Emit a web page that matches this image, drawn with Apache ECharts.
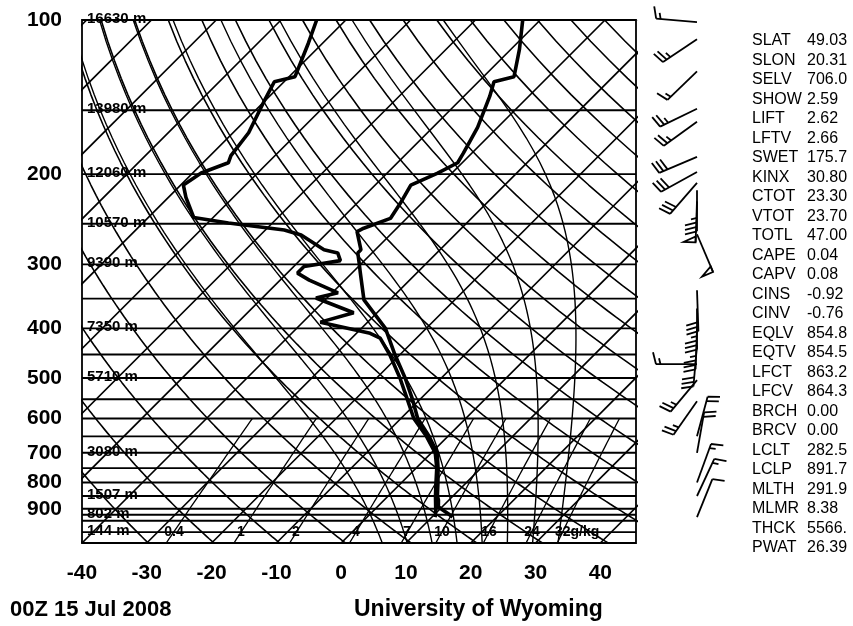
<!DOCTYPE html>
<html><head><meta charset="utf-8">
<script src="https://cdn.jsdelivr.net/npm/echarts@6/dist/echarts.min.js"></script>
<style>html,body{margin:0;padding:0;background:#fff}#c{width:853px;height:626px}</style>
</head><body><div id="c"></div>
<script>
// ---------------- data ----------------
const tempP = [935, 925, 900, 892, 866, 850, 800, 750, 700, 650, 600, 550, 500, 450, 400, 352, 312, 300, 285, 281, 259, 255, 244, 228, 210, 199, 190, 182, 162, 141, 132, 129, 114, 100];
const tempT = [13.2, 12.4, 10.1, 9.4, 8.4, 7.6, 5.6, 3.4, 0.9, -2.9, -7.4, -11.2, -15.6, -20.8, -26.3, -34.0, -38.7, -40.2, -42.2, -42.2, -45.6, -45.1, -42.5, -43.3, -44.5, -42.2, -40.7, -41.3, -43.1, -46.0, -47.6, -45.3, -48.7, -52.7];
const dewP = [935, 925, 900, 850, 800, 750, 700, 650, 600, 550, 500, 450, 418, 409, 389, 373, 349, 341, 322, 312, 303, 295, 285, 281, 263, 257, 249, 243, 222, 210, 199, 190, 184, 166, 143, 132, 129, 111, 100];
const dewT = [10.5, 10.2, 9.3, 7.3, 5.3, 3.2, 0.6, -3.3, -8.0, -12.0, -16.4, -21.6, -25.6, -27.9, -37.3, -33.6, -41.7, -39.1, -45.5, -48.4, -48.4, -43.7, -45.3, -47.9, -53.7, -57.1, -66.8, -73.0, -77.3, -79.6, -78.7, -76.1, -76.8, -77.6, -80.2, -81.5, -79.1, -82.2, -84.5];

const windP   = [101, 109, 126, 149, 158, 185, 198, 208, 215, 226, 262, 337, 366, 400, 432, 470, 505, 555, 650, 700, 800, 850, 935];
const windDir = [275, 236, 226, 244, 234, 247, 241, 221, 180, 182, 157, 178, 180, 182, 185, 270, 220, 215, 15, 10, 20, 25, 22];
const windSpd = [15, 25, 15, 25, 25, 30, 30, 30, 35, 50, 50, 30, 35, 35, 30, 15, 25, 25, 20, 20, 15, 15, 10];

const pressureTicks = [100, 200, 300, 400, 500, 600, 700, 800, 900];
const isobars = [100, 150, 200, 250, 300, 350, 400, 450, 500, 550, 600, 650, 700, 750, 800, 850, 900, 925, 950, 1000];
const isotherms = [-120, -110, -100, -90, -80, -70, -60, -50, -40, -30, -20, -10, 0, 10, 20, 30, 40];
const dryAdiabats = [230, 240, 250, 260, 270, 280, 290, 300, 310, 320, 330, 340, 350, 360, 370, 380, 390, 400, 410, 420, 430, 440, 450, 460];
const moistAdiabats = [4, 8, 12, 16, 20, 24, 28, 32];
const mixingRatios = [0.4, 1, 2, 4, 7, 10, 16, 24, 32];
const mixingLabels = ['0.4', '1', '2', '4', '7', '10', '16', '24', '32g/kg'];
const heightP = [100, 150, 200, 250, 300, 400, 500, 700, 850, 925, 1000];
const heightLabels = ['16630 m', '13980 m', '12060 m', '10570 m', '9390 m', '7350 m', '5710 m', '3080 m', '1507 m', '802 m', '144 m'];
const statNames = ['SLAT','SLON','SELV','SHOW','LIFT','LFTV','SWET','KINX','CTOT','VTOT','TOTL','CAPE','CAPV','CINS','CINV','EQLV','EQTV','LFCT','LFCV','BRCH','BRCV','LCLT','LCLP','MLTH','MLMR','THCK','PWAT'];
const statValues = ['49.03','20.31','706.0','2.59','2.62','2.66','175.7','30.80','23.30','23.70','47.00','0.04','0.08','-0.92','-0.76','854.8','854.5','863.2','864.3','0.00','0.00','282.5','891.7','291.9','8.38','5566.','26.39'];
const dateText = '00Z 15 Jul 2008';
const sourceText = 'University of Wyoming';

// ---------------- layout ----------------
const G = {left: 82, top: 20, width: 554, height: 523};
const XMIN = -40, XMAX = 45.5, PTOP = 100, PBOT = 1050;
const SKEW = (G.height / Math.log10(PBOT / PTOP)) / (G.width / (XMAX - XMIN)); // 45 degree isotherms
const skewX = (T, p) => T + SKEW * Math.log10(PBOT / p);

function ls(data, w, z) {
  return {type: 'line', data, symbol: 'none', silent: true, animation: false, clip: true,
    lineStyle: {color: '#000', width: w}, z: z || 2};
}
const pLevels = [];
for (let p = PBOT; p >= PTOP; p -= 10) pLevels.push(p);

const series = [];
isobars.forEach(p => series.push(ls([[XMIN, p], [XMAX, p]], 1.9)));
isotherms.forEach(T => series.push(ls([[skewX(T, PBOT), PBOT], [skewX(T, PTOP), PTOP]], 1.7)));
dryAdiabats.forEach(th => series.push(ls(pLevels.map(p => [skewX(th * Math.pow(p / 1000, 0.2857) - 273.15, p), p]), 1.6)));

function moistPath(tw) {
  const f = (p, T) => {
    const Tc = T - 273.15;
    const es = 6.112 * Math.exp(17.67 * Tc / (Tc + 243.5));
    const rs = 0.622 * es / (p - es);
    const num = 287.04 * T + 2.501e6 * rs;
    const den = 1005.7 + (2.501e6 * 2.501e6 * rs * 0.622) / (287.04 * T * T);
    return num / (den * p);
  };
  const down = [];
  let T = tw + 273.15, p = 1000;
  while (p < PBOT) { const h = 5; const k1 = f(p, T), k2 = f(p + h, T + h * k1); T += h * (k1 + k2) / 2; p += h; down.push([p, T]); }
  const pts = down.reverse();
  pts.push([1000, tw + 273.15]);
  T = tw + 273.15; p = 1000;
  while (p > PTOP) { const h = -5; const k1 = f(p, T), k2 = f(p + h, T + h * k1); T += h * (k1 + k2) / 2; p += h; if (p % 10 === 0) pts.push([p, T]); }
  return pts.map(d => [skewX(d[1] - 273.15, d[0]), d[0]]);
}
moistAdiabats.forEach(tw => series.push(ls(moistPath(tw), 1.4)));

function tdFromW(w, p) {
  const e = w * p / (622 + w);
  const l = Math.log(e / 6.112);
  return 243.5 * l / (17.67 - l);
}
const mixLevels = pLevels.filter(p => p >= 600);
mixingRatios.forEach(w => series.push(ls(mixLevels.map(p => [skewX(tdFromW(w, p), p), p]), 1.3)));

// profiles
series.push(ls(tempP.map((p, i) => [skewX(tempT[i], p), p]), 3.6, 10));
series.push(ls(dewP.map((p, i) => [skewX(dewT[i], p), p]), 3.6, 10));

// text marks placed through the axes (custom series)
function textSeries(items, font, align, dx, dy) {
  return {
    type: 'custom', coordinateSystem: 'cartesian2d', silent: true, animation: false, clip: false, z: 12,
    data: items, encode: {x: 0, y: 1},
    renderItem: (params, api) => {
      const pt = api.coord([api.value(0), api.value(1)]);
      const it = items[params.dataIndex];
      return {type: 'text', x: Math.round(pt[0] + dx + (it[3] || 0)), y: Math.round(pt[1] + dy),
        style: {text: it[2], font, fill: '#000', align: it[4] || align, verticalAlign: 'middle'}};
    }
  };
}
series.push(textSeries(heightP.map((p, i) => [XMIN, p, heightLabels[i]]), 'bold 15px "Liberation Sans"', 'left', 5, -1));
series.push(textSeries(mixingRatios.map((w, i) => [skewX(tdFromW(w, 1000), 1000), 1000, mixingLabels[i],
  i === mixingRatios.length - 1 ? -8 : 0, i === mixingRatios.length - 1 ? 'left' : null]), 'bold 14px "Liberation Sans"', 'center', 0, 0));

// wind barbs
series.push({
  type: 'custom', coordinateSystem: 'cartesian2d', silent: true, animation: false, clip: false, z: 12,
  data: windP.map((p, i) => [XMAX, p, windDir[i], windSpd[i]]),
  encode: {x: 0, y: 1},
  renderItem: (params, api) => {
    const pt = api.coord([api.value(0), api.value(1)]);
    const bx = pt[0] + 61, by = pt[1];
    const a = api.value(2) * Math.PI / 180;
    const ux = Math.sin(a), uy = -Math.cos(a);
    const L = 41;
    const tx = bx + ux * L, ty = by + uy * L;
    const px = -uy, py = ux;
    const st = {stroke: '#000', lineWidth: 1.8};
    const ch = [{type: 'line', shape: {x1: bx, y1: by, x2: tx, y2: ty}, style: st}];
    let s = Math.round(api.value(3) / 5) * 5;
    const flags = Math.floor(s / 50); s -= flags * 50;
    const full = Math.floor(s / 10); s -= full * 10;
    const half = s >= 5;
    const bl = 12, gap = 4.5, tilt = 0.25;
    let pos = 0;
    for (let k = 0; k < flags; k++) {
      const ax = tx - ux * pos, ay = ty - uy * pos;
      const cx = tx - ux * (pos + 6), cy = ty - uy * (pos + 6);
      ch.push({type: 'polygon', shape: {points: [[ax, ay], [ax + px * bl, ay + py * bl], [cx, cy]]}, style: {fill: 'none', stroke: '#000', lineWidth: 1.8}});
      pos += 8;
    }
    for (let k = 0; k < full; k++) {
      const ax = tx - ux * pos, ay = ty - uy * pos;
      ch.push({type: 'line', shape: {x1: ax, y1: ay, x2: ax + (px + ux * tilt) * bl, y2: ay + (py + uy * tilt) * bl}, style: st});
      pos += gap;
    }
    if (half) {
      if (pos === 0) pos = gap;
      const ax = tx - ux * pos, ay = ty - uy * pos;
      ch.push({type: 'line', shape: {x1: ax, y1: ay, x2: ax + (px + ux * tilt) * bl / 2, y2: ay + (py + uy * tilt) * bl / 2}, style: st});
    }
    return {type: 'group', children: ch};
  }
});

// stats text + footer
const graphic = [];
statNames.forEach((n, i) => {
  const y = 42 + i * 19.5;
  graphic.push({type: 'text', left: 752, top: Math.round(y - 9), silent: true,
    style: {text: n, font: '16px "Liberation Sans"', fill: '#000'}});
  graphic.push({type: 'text', left: 807, top: Math.round(y - 9), silent: true,
    style: {text: statValues[i], font: '16px "Liberation Sans"', fill: '#000'}});
});
graphic.push({type: 'text', left: 10, top: 599, silent: true, style: {text: dateText, font: 'bold 22px "Liberation Sans"', fill: '#000'}});
graphic.push({type: 'text', left: 354, top: 598, silent: true, style: {text: sourceText, font: 'bold 23px "Liberation Sans"', fill: '#000'}});

const chart = echarts.init(document.getElementById('c'));
chart.setOption({
  animation: false,
  backgroundColor: '#fff',
  grid: {left: G.left, top: G.top, width: G.width, height: G.height, show: true, borderColor: '#000', borderWidth: 1.8, containLabel: false},
  xAxis: {type: 'value', min: XMIN, max: XMAX, interval: 10,
    axisLine: {show: false}, axisTick: {show: false}, splitLine: {show: false},
    axisLabel: {margin: 20, fontFamily: 'Liberation Sans', fontWeight: 'bold', fontSize: 21, color: '#000',
      formatter: v => (Math.abs(v % 10) < 1e-6 ? String(v) : '')}},
  yAxis: {type: 'log', logBase: 10, min: PTOP, max: PBOT, inverse: true,
    axisLine: {show: false}, axisTick: {show: false}, splitLine: {show: false}, minorSplitLine: {show: false},
    axisLabel: {customValues: pressureTicks, margin: 20, fontFamily: 'Liberation Sans', fontWeight: 'bold', fontSize: 21, color: '#000'}},
  series,
  graphic
});
</script></body></html>
